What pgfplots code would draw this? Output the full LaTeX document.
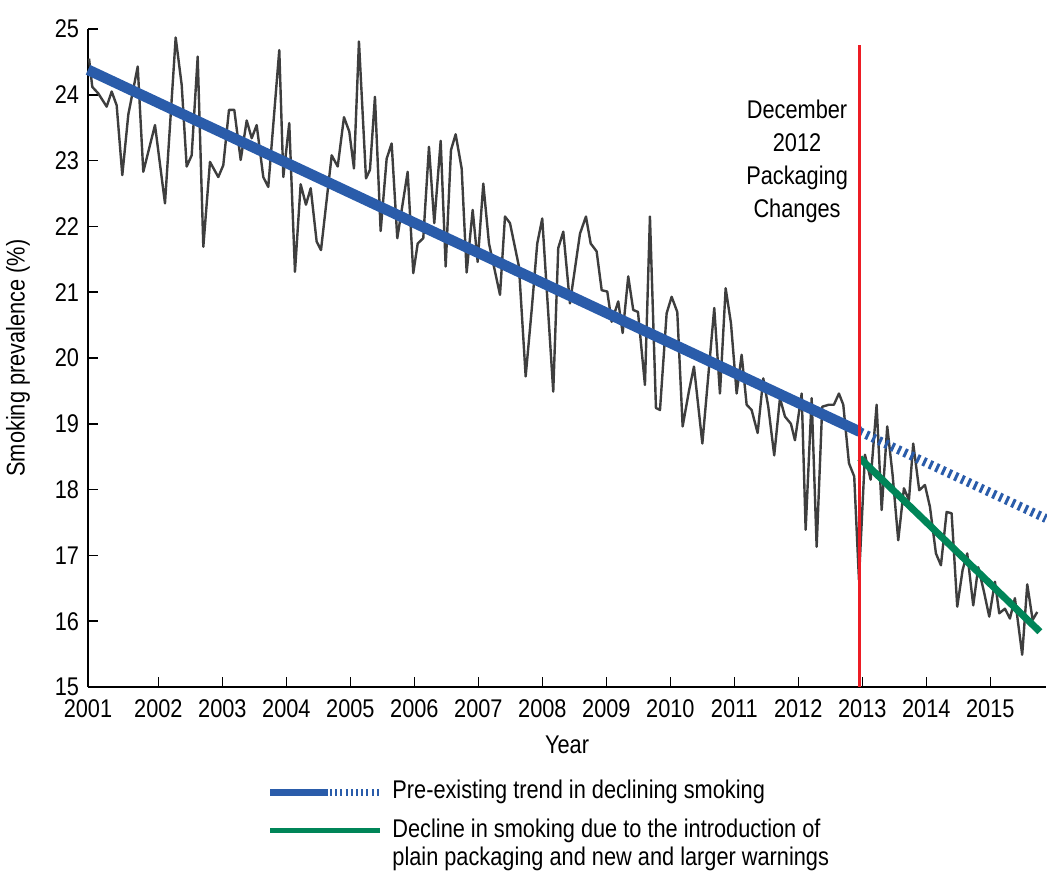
\documentclass[border=0pt]{standalone}
\usepackage{pgfplots}
\pgfplotsset{compat=1.18}
\usepackage{fontspec}
\setmainfont{Liberation Sans}[FakeStretch=0.85]
\definecolor{trendblue}{RGB}{42,92,170}
\definecolor{plaingreen}{RGB}{0,133,88}
\definecolor{seriesgray}{RGB}{62,62,62}
\definecolor{markred}{RGB}{237,28,36}

% monthly smoking prevalence (%)
\pgfplotstableread{
x y
2000.916 24.55
2000.967 24.12
2001.061 24.02
2001.192 23.82
2001.270 24.05
2001.348 23.84
2001.436 22.78
2001.530 23.70
2001.677 24.43
2001.764 22.83
2001.947 23.54
2002.103 22.35
2002.270 24.87
2002.364 24.15
2002.442 22.91
2002.520 23.08
2002.614 24.58
2002.702 21.69
2002.806 22.98
2002.936 22.75
2003.014 22.93
2003.103 23.77
2003.186 23.77
2003.286 23.01
2003.380 23.61
2003.458 23.34
2003.536 23.54
2003.639 22.75
2003.717 22.60
2003.889 24.68
2003.952 22.75
2004.045 23.57
2004.134 21.31
2004.223 22.64
2004.306 22.33
2004.380 22.58
2004.473 21.77
2004.541 21.64
2004.708 23.08
2004.802 22.91
2004.900 23.66
2004.983 23.44
2005.056 22.88
2005.134 24.81
2005.244 22.73
2005.306 22.86
2005.384 23.97
2005.473 21.93
2005.567 23.03
2005.645 23.26
2005.733 21.82
2005.895 22.83
2005.983 21.29
2006.052 21.74
2006.139 21.82
2006.228 23.21
2006.311 22.05
2006.411 23.30
2006.489 21.39
2006.572 23.16
2006.645 23.40
2006.739 22.88
2006.817 21.30
2006.911 22.25
2006.989 21.46
2007.077 22.65
2007.166 21.74
2007.338 20.96
2007.416 22.15
2007.494 22.05
2007.634 21.39
2007.739 19.72
2007.833 20.73
2007.920 21.74
2007.998 22.12
2008.170 19.49
2008.248 21.67
2008.327 21.92
2008.431 20.83
2008.588 21.89
2008.681 22.15
2008.755 21.74
2008.848 21.62
2008.927 21.03
2009.014 21.01
2009.083 20.55
2009.186 20.86
2009.255 20.38
2009.342 21.24
2009.420 20.73
2009.494 20.70
2009.603 19.59
2009.681 22.15
2009.775 19.24
2009.838 19.21
2009.942 20.68
2010.020 20.93
2010.108 20.70
2010.192 18.96
2010.291 19.50
2010.369 19.87
2010.500 18.70
2010.686 20.76
2010.775 19.46
2010.864 21.06
2010.947 20.53
2011.036 19.46
2011.114 20.05
2011.192 19.29
2011.270 19.21
2011.364 18.86
2011.452 19.69
2011.530 19.26
2011.623 18.52
2011.713 19.39
2011.791 19.11
2011.884 19.00
2011.947 18.75
2012.052 19.46
2012.114 17.39
2012.208 19.39
2012.286 17.13
2012.373 19.26
2012.478 19.29
2012.556 19.29
2012.634 19.46
2012.702 19.29
2012.791 18.40
2012.873 18.20
2012.947 16.63
2013.041 18.53
2013.130 18.15
2013.223 19.29
2013.302 17.69
2013.389 18.96
2013.473 18.22
2013.561 17.23
2013.650 18.02
2013.728 17.84
2013.795 18.70
2013.889 17.99
2013.978 18.07
2014.056 17.74
2014.150 17.03
2014.228 16.85
2014.317 17.66
2014.395 17.64
2014.483 16.22
2014.567 16.78
2014.639 17.03
2014.733 16.24
2014.811 16.82
2014.900 16.45
2014.983 16.07
2015.072 16.60
2015.139 16.12
2015.228 16.19
2015.306 16.04
2015.384 16.35
2015.498 15.49
2015.577 16.56
2015.661 16.02
2015.733 16.14
}\prevalence

\begin{document}
\fontsize{12.8bp}{15bp}\selectfont
\begin{tikzpicture}
\path[use as bounding box] (-44bp,-94.5bp) rectangle (479.5bp,343.5bp);
\begin{axis}[
  at={(0,0)}, anchor=south west,
  scale only axis, width=479bp, height=329bp,
  xmin=2000.9, xmax=2015.87, ymin=15, ymax=25,
  axis lines*=left,
  axis line style={line width=1bp, black},
  tick align=inside, major tick length=5bp,
  tick style={line width=0.8bp, black},
  xtick={2000.9,2002,2003,2004,2005,2006,2007,2008,2009,2010,2011,2012,2013,2014,2015},
  xticklabels={2001,2002,2003,2004,2005,2006,2007,2008,2009,2010,2011,2012,2013,2014,2015},
  ytick={15,16,...,25},
  /pgf/number format/assume math mode=true,
  /pgf/number format/1000 sep={},
  tick label style={font=\fontsize{12.8bp}{15bp}\selectfont},
  xticklabel style={yshift=-2bp},
  xlabel={Year}, ylabel={Smoking prevalence (\%)},
  label style={font=\fontsize{12.8bp}{15bp}\selectfont},
  xlabel style={at={(axis description cs:0.5,0)}, anchor=center, yshift=-29bp},
  ylabel style={at={(axis description cs:0,0.5)}, anchor=center, xshift=0bp, yshift=35bp},
  clip=false,
]
\addplot[seriesgray, line width=1.2bp, line join=round] table {\prevalence};
\addplot[trendblue, line width=5.3bp] coordinates {(2000.9,24.38) (2012.96,18.88)};
\addplot[trendblue, line width=4.5bp, dash pattern=on 1.5bp off 2bp] coordinates {(2012.96,18.88) (2015.87,17.56)};
\addplot[plaingreen, line width=3.5bp] coordinates {(2012.96,18.48) (2015.775,15.84)};
\addplot[markred, line width=1.5bp] coordinates {(2012.96,15) (2012.96,24.75)};
\node[align=center, font=\fontsize{12.8bp}{16.5bp}\selectfont] at (axis cs:2011.98,22.99)
  {December\\2012\\Packaging\\Changes};
\end{axis}
% legend
\draw[trendblue, line width=3.5bp] (91bp,-52.5bp) -- (120bp,-52.5bp);
\draw[trendblue, line width=3.5bp, dash pattern=on 1bp off 1.6bp] (121bp,-52.5bp) -- (146bp,-52.5bp);
\draw[plaingreen, line width=2.5bp] (91bp,-71.5bp) -- (146bp,-71.5bp);
\node[anchor=west, inner sep=0pt] at (152bp,-52.5bp) {Pre-existing trend in declining smoking};
\node[anchor=north west, inner sep=0pt, align=left, font=\fontsize{12.8bp}{14bp}\selectfont] at (152bp,-66bp)
  {Decline in smoking due to the introduction of\\plain packaging and new and larger warnings};
\end{tikzpicture}
\end{document}
